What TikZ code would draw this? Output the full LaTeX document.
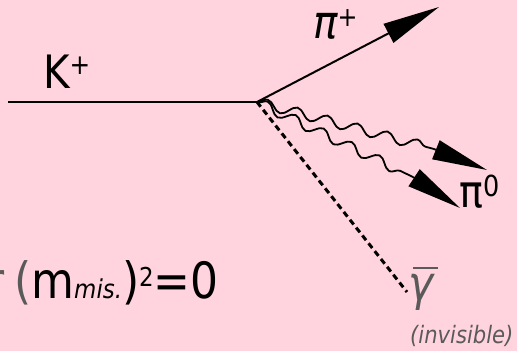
\documentclass[tikz,border=0pt]{standalone}
\usepackage{fontspec}
\setmainfont[FakeStretch=0.88]{DejaVu Sans}
\usetikzlibrary{arrows.meta,decorations.pathmorphing}
\definecolor{bgpink}{RGB}{255,212,222}
\definecolor{txtgray}{RGB}{90,90,90}
\newcommand{\fsz}[1]{\fontsize{#1bp}{#1bp}\selectfont}
\begin{document}
\begin{tikzpicture}[x=1bp,y=-1bp,
  particle/.style={line width=2bp},
  photon/.style={line width=1.8bp, decorate, decoration={snake, amplitude=5bp, segment length=31bp, post length=2bp}},
  headarrow/.style={-{Triangle[length=55bp,width=20bp]}, line width=1.8bp},
  lbl/.style={inner sep=0pt, anchor=base west, text=black}]
\fill[bgpink] (0,0) rectangle (517,351);
\useasboundingbox (0,0) rectangle (517,351);
\coordinate (v) at (257,102);
\coordinate (kin) at (8,102);
\coordinate (pip) at (439,7);
\coordinate (g1) at (434,149);
\coordinate (g1t) at (487,170);
\coordinate (g2) at (413,177);
\coordinate (g2t) at (460,208);
\coordinate (gam) at (407,292);
\draw[particle] (kin) -- (v);
\draw[particle, -{Triangle[length=57bp,width=21bp]}] (v) -- (pip);
\draw[photon] (v) -- (g1);
\draw[headarrow] (g1) -- (g1t);
\draw[photon] (v) -- (g2);
\draw[headarrow] (g2) -- (g2t);
\draw[line width=3bp, dash pattern=on 6bp off 4bp] (v) -- (gam);
\node[lbl, font=\fsz{46}] (klbl) at (43,88) {K{\fsz{28}\raisebox{14bp}{+}}};
\node[lbl, font=\fsz{46}\itshape] (piplbl) at (313,38) {π{\fsz{27}\upshape\raisebox{12bp}{+}}};
\node[lbl, font=\fsz{45}] (pi0lbl) at (459,207) {π{\fsz{29}\raisebox{11bp}{0}}};
\node[lbl, font=\fsz{48}\itshape, text=txtgray] (gamlbl) at (408,300) {γ};
\draw[txtgray, line width=2bp] (413,268) -- (438,268);
\node[lbl, font=\fsz{24}\itshape, text=txtgray] (invis) at (410,343) {(invisible)};
\node[lbl, anchor=base east, font=\fsz{50}, text=txtgray] (frag) at (5,298) {r};
\node[lbl, font=\fsz{50}] (eq) at (14,298) {\textcolor{txtgray}{(}m{\fsz{26}\itshape mis.}){\fsz{26}\raisebox{12bp}{2}}=0};
\end{tikzpicture}
\end{document}
